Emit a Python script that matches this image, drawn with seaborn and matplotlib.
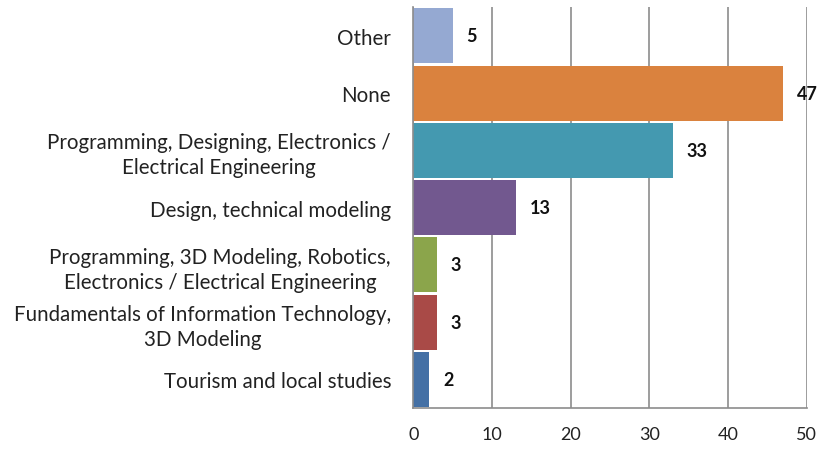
import matplotlib
matplotlib.use("Agg")
import matplotlib.pyplot as plt
import seaborn as sns
import pandas as pd
import numpy as np

categories = [
    "Other",
    "None",
    "Programming, Designing, Electronics /\nElectrical Engineering",
    "Design, technical modeling",
    "Programming, 3D Modeling, Robotics,\nElectronics / Electrical Engineering",
    "Fundamentals of Information Technology,\n3D Modeling",
    "Tourism and local studies",
]
values = [5, 47, 33, 13, 3, 3, 2]
colors = ["#95A9D2", "#DA823E", "#4499B0", "#72588F", "#8BA54B", "#A94A47", "#4470A5"]
xticks = [0, 10, 20, 30, 40, 50]

sns.set_theme(style="white")
plt.rcParams["font.family"] = ["Lato", "DejaVu Sans"]

df = pd.DataFrame({"cat": categories, "val": values})

fig = plt.figure(figsize=(8.2, 4.52), dpi=100)
ax = fig.add_axes([0.504, 0.095, 0.480, 0.887])

sns.barplot(data=df, y="cat", x="val", hue="cat", palette=colors, order=categories,
            hue_order=categories, orient="h", width=0.96, legend=False, ax=ax,
            edgecolor="none", saturation=1)

ax.set_xlim(0, 50)
ax.set_ylim(len(categories) - 0.5, -0.5)
ax.set_xticks(xticks)
ax.set_xticklabels([str(t) for t in xticks], fontsize=13, color="#222222")
ax.set_xlabel("")
ax.set_ylabel("")
ax.tick_params(axis="y", which="major", length=0, labelsize=14.8, pad=16, labelcolor="#222222")
for lab in ax.get_yticklabels():
    lab.set_horizontalalignment("right")
    lab.set_multialignment("center")
    lab.set_linespacing(1.3)
# category boundary ticks
ax.set_yticks(np.arange(-0.5, len(categories), 1), minor=True)
ax.tick_params(axis="y", which="minor", length=5, color="#888888", direction="out", width=1)
ax.tick_params(axis="x", which="major", length=5, color="#888888", direction="out", width=1, pad=8)

ax.grid(axis="x", color="#8c8c8c", linewidth=1.2)
ax.set_axisbelow(True)
for s in ["top", "right"]:
    ax.spines[s].set_visible(False)
for s in ["left", "bottom"]:
    ax.spines[s].set_color("#8c8c8c")
    ax.spines[s].set_linewidth(1.2)

for i, v in enumerate(values):
    ax.annotate(str(v), xy=(v, i), xytext=(10, 0), textcoords="offset points",
                ha="left", va="center", fontsize=13, fontweight="bold", color="#111111")

fig.savefig("out.png", dpi=100)
